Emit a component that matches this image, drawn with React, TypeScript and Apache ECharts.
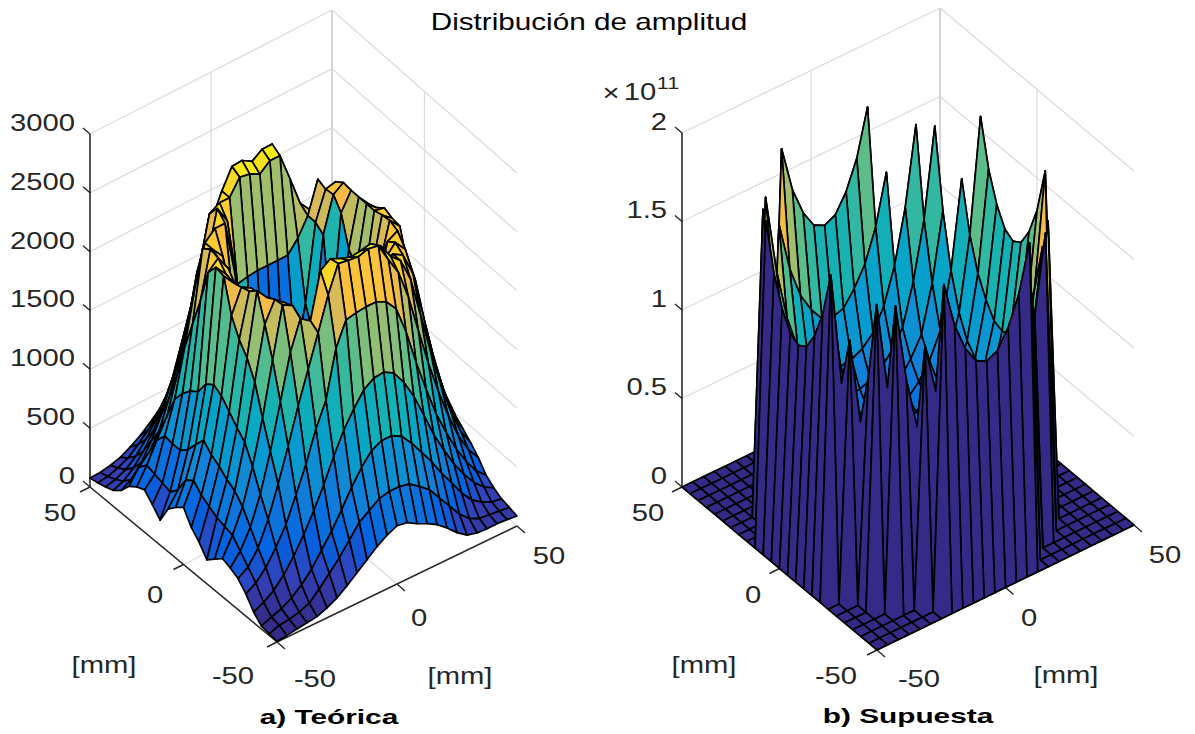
import React, { useEffect, useRef } from "react";
import * as echarts from "echarts";

const suptitle = "Distribución de amplitud";
const subtitleA = "a) Teórica";
const subtitleB = "b) Supuesta";
const unitLabel = "[mm]";
const floorTicks = [-50, 0, 50];
const zTicksA = [0, 500, 1000, 1500, 2000, 2500, 3000];
const zLabelsA = ["0", "500", "1000", "1500", "2000", "2500", "3000"];
const zTicksB = [0, 0.5, 1, 1.5, 2];
const zLabelsB = ["0", "0.5", "1", "1.5", "2"];
const parula = ["#352A87","#3243BA","#0363E1","#0D75DC","#1485D4","#0998D1","#06A7C6","#15B1B4","#38B99E","#65BE86","#92BF73","#B7BD64","#D9BA56","#F8BB44","#FCCE2E","#F5E41D","#F9FB0E"];

// Rows run from the front (Y=-50) to the back (Y=50); columns from X=-50 to X=50.
const surfaceA: number[][] = [
[5,15,28,40,52,85,128,190,260,330,400,455,495,480,430,390,340,270,190,128,105,100,102,95,85],
[15,45,55,75,110,190,280,370,480,590,650,710,730,730,710,650,580,470,360,250,170,130,120,110,100],
[25,60,90,140,210,300,420,540,680,830,960,1060,1105,1105,1060,960,840,720,580,460,330,230,170,130,115],
[90,130,190,280,400,540,700,880,1080,1260,1400,1520,1580,1590,1540,1420,1260,1060,850,680,520,390,280,200,150],
[190,240,330,460,610,820,1040,1300,1500,1900,2100,2120,2130,2130,2090,1990,1750,1450,1180,930,730,550,400,280,200],
[265,320,440,640,900,1180,1480,1750,2020,2300,2525,2510,2500,2525,2510,2350,2200,1950,1620,1300,1020,770,560,400,290],
[300,400,560,800,1120,1500,1880,2125,2065,2450,2510,2470,2440,2450,2470,2410,2280,2200,2000,1650,1300,980,710,500,360],
[325,480,680,980,1350,1800,2230,2180,2000,1700,1500,1300,1200,1200,1400,1750,2100,2200,2150,1950,1560,1180,850,600,420],
[265,500,760,1130,1600,2050,2220,2150,1900,1300,1000,800,600,600,800,1100,1750,2100,2200,2100,1800,1380,990,700,480],
[204,520,800,1200,1750,2280,2180,2000,1300,800,560,450,420,420,450,560,950,1750,2150,2200,1880,1480,1060,760,520],
[300,560,860,1280,1850,2220,2150,1500,900,520,430,390,380,380,390,430,560,1100,1900,2230,2140,1580,1130,800,550],
[370,600,900,1360,2000,2200,2150,1300,750,480,400,380,370,370,380,400,480,850,1800,2220,2150,1620,1160,820,570],
[485,670,970,1400,2280,2180,2050,1100,650,460,390,370,360,360,370,390,460,700,1650,2200,2180,1650,1180,840,580],
[430,620,880,1350,2300,2200,2050,1100,650,460,390,370,360,360,370,390,460,720,1700,2200,2125,1620,1150,820,570],
[360,480,780,1230,2200,2280,2150,1300,800,480,400,380,370,370,380,400,500,880,1800,2200,2100,1560,1100,780,540],
[212,410,720,1180,1900,2300,2150,1800,1050,530,430,400,390,390,400,440,560,1150,2050,2200,1950,1420,1000,720,500],
[290,430,720,1105,1650,2250,2200,2100,1700,980,520,450,420,420,460,560,1050,1850,2150,2210,1800,1300,900,640,450],
[360,450,730,1000,1400,1850,2200,2280,2280,1800,1150,500,400,380,420,850,1250,1900,2140,2160,1600,1150,800,560,400],
[330,470,640,800,1100,1450,1900,1970,2350,2200,1620,1640,1650,1650,1650,1650,1750,1900,2167,1850,1400,1000,700,490,350],
[280,400,480,620,860,1150,1480,1850,2250,2300,2300,2430,2414,2370,2440,2440,2200,1950,1850,1700,1250,880,620,430,310],
[190,240,340,480,660,900,1180,1480,1850,2100,2300,2465,2473,2422,2482,2482,2200,1800,1500,1200,950,700,500,360,260],
[136,170,240,340,470,640,860,1100,1400,1700,1950,2100,2120,2120,2100,1900,1650,1380,1120,900,700,520,380,280,210],
[110,130,170,240,340,460,620,800,1020,1250,1450,1560,1590,1590,1550,1400,1200,1000,800,640,500,380,290,220,170],
[90,100,130,170,240,320,430,560,700,860,1000,1080,1110,1110,1070,970,830,690,560,440,350,270,210,170,130],
[76,80,95,120,165,220,290,370,460,560,650,710,730,730,700,630,540,450,370,300,240,190,155,130,110],
];

// Surface b, in units of 1e11: one list per distance of the row from the aperture's centre row.
const bRow11 = [0,0,0,0,0,0,0,0,0,0,0,0,0,0,0,0,0,0,0,0,0,0,0,0,0];
const bRow10 = [0,0,0,0,0,0,0,1.82,1.56,1.40,1.30,1.27,1.30,1.40,1.56,1.82,0,0,0,0,0,0,0,0,0];
const bRow9 = [0,0,0,0,0,0,1.46,1.18,1.00,0.89,0.81,0.79,0.81,0.89,1.00,1.18,1.46,0,0,0,0,0,0,0,0];
const bRow8 = [0,0,0,0,1.71,1.27,0.97,0.77,0.65,0.59,0.56,0.55,0.56,0.59,0.65,0.77,0.97,1.27,1.71,0,0,0,0,0,0];
const bRow7 = [0,0,0,1.71,1.21,0.89,0.66,0.56,0.49,0.45,0.43,0.42,0.43,0.45,0.49,0.56,0.66,0.89,1.21,1.71,0,0,0,0,0];
const bRow6 = [0,0,0,1.27,0.89,0.63,0.52,0.44,0.40,0.37,0.36,0.35,0.36,0.37,0.40,0.44,0.52,0.63,0.89,1.27,0,0,0,0,0];
const bRow5 = [0,0,1.46,0.97,0.66,0.52,0.43,0.37,0.34,0.32,0.31,0.30,0.31,0.32,0.34,0.37,0.43,0.52,0.66,0.97,1.46,0,0,0,0];
const bRow4 = [0,1.82,1.18,0.77,0.56,0.44,0.37,0.33,0.30,0.29,0.28,0.27,0.28,0.29,0.30,0.33,0.37,0.44,0.56,0.77,1.18,1.82,0,0,0];
const bRow3 = [0,1.56,1.00,0.65,0.49,0.40,0.34,0.30,0.28,0.27,0.26,0.26,0.26,0.27,0.28,0.30,0.34,0.40,0.49,0.65,1.00,1.56,0,0,0];
const bRow2 = [0,1.40,0.89,0.59,0.45,0.37,0.32,0.29,0.27,0.26,0.25,0.25,0.25,0.26,0.27,0.29,0.32,0.37,0.45,0.59,0.89,1.40,0,0,0];
const bRow1 = [0,1.30,0.81,0.56,0.43,0.36,0.31,0.28,0.26,0.25,0.25,0.25,0.25,0.25,0.26,0.28,0.31,0.36,0.43,0.56,0.81,1.30,0,0,0];
const bRow0 = [0,1.27,0.79,0.55,0.42,0.35,0.30,0.27,0.26,0.25,0.25,0.25,0.25,0.25,0.26,0.27,0.30,0.35,0.42,0.55,0.79,1.27,0,0,0];
const surfaceB: number[][] = [bRow11,bRow10,bRow9,bRow8,bRow7,bRow6,bRow5,bRow4,bRow3,bRow2,bRow1,bRow0,bRow1,bRow2,bRow3,bRow4,bRow5,bRow6,bRow7,bRow8,bRow9,bRow10,bRow11,bRow11,bRow11];

type Pt = [number, number];
type Panel = { front: Pt; right: Pt; left: Pt; back: Pt; zPx: number; zMax: number; cMax: number };
const panelA: Panel = { front: [277, 642], right: [517, 526], left: [90, 487], back: [332, 363], zPx: 353, zMax: 3000, cMax: 2540 };
const panelB: Panel = { front: [877, 650], right: [1134, 525], left: [682, 487], back: [940, 362], zPx: 354, zMax: 2, cMax: 1.82 };

function project(p: Panel, X: number, Y: number, Z: number): Pt {
  const a = (X + 50) / 100, b = (Y + 50) / 100;
  const mix = (i: 0 | 1) =>
    p.front[i] * (1 - a) * (1 - b) + p.right[i] * a * (1 - b) + p.left[i] * (1 - a) * b + p.back[i] * a * b;
  return [mix(0), mix(1) - (Z / p.zMax) * p.zPx];
}

function surfaceSeries(p: Panel, table: number[][]) {
  const n = table.length - 1;
  const mm = (i: number) => -50 + (100 * i) / n;
  const cells: number[][] = [];
  for (let v = n - 1; v >= 0; v--) for (let u = n - 1; u >= 0; u--) cells.push([u, v]);
  return {
    type: "custom",
    coordinateSystem: "cartesian2d",
    clip: false,
    silent: true,
    data: cells,
    encode: { x: 0, y: 1 },
    renderItem: (_: any, api: any) => {
      const u = api.value(0), v = api.value(1);
      const corner = (i: number, j: number) => api.coord(project(p, mm(i), mm(j), table[j][i]));
      return {
        type: "polygon",
        shape: { points: [corner(u, v), corner(u + 1, v), corner(u + 1, v + 1), corner(u, v + 1)] },
        style: {
          fill: echarts.color.lerp(Math.min(1, table[v][u] / p.cMax), parula),
          stroke: "#000",
          lineWidth: 1.7,
          lineJoin: "round",
        },
      };
    },
  };
}

function frameSeries(p: Panel, zTicks: number[]) {
  const GRID = "#dcdcdc", AXIS = "#262626";
  const segs: { a: Pt; b: Pt; c: string; w: number }[] = [];
  const top = p.zMax;
  const add = (a: Pt, b: Pt, c: string, w: number) => segs.push({ a, b, c, w });
  zTicks.forEach((z) => {
    add(project(p, -50, 50, z), project(p, 50, 50, z), GRID, 1.3);
    add(project(p, 50, 50, z), project(p, 50, -50, z), GRID, 1.3);
  });
  floorTicks.forEach((t) => {
    if (t !== -50) {
      add(project(p, t, 50, 0), project(p, t, 50, top), t === 50 ? "#c6c6c6" : GRID, t === 50 ? 2 : 1.3);
      add(project(p, 50, t, 0), project(p, 50, t, top), GRID, 1.3);
    }
    if (t === 0) {
      add(project(p, t, -50, 0), project(p, t, 50, 0), GRID, 1.3);
      add(project(p, -50, t, 0), project(p, 50, t, 0), GRID, 1.3);
    }
  });
  add(project(p, -50, 50, 0), project(p, -50, 50, top), AXIS, 1.6);
  add(project(p, -50, -50, 0), project(p, -50, 50, 0), AXIS, 1.5);
  add(project(p, -50, -50, 0), project(p, 50, -50, 0), AXIS, 1.5);
  zTicks.forEach((z) => {
    const q = project(p, -50, 50, z);
    add(q, [q[0] - 7, q[1] - 6], AXIS, 1.4);
  });
  floorTicks.forEach((t) => {
    const q = project(p, -50, t, 0);
    add(q, [q[0] - 10, q[1] + 5], AXIS, 1.4);
    const r = project(p, t, -50, 0);
    add(r, [r[0] + 8, r[1] + 7], AXIS, 1.4);
  });
  return {
    type: "custom",
    coordinateSystem: "cartesian2d",
    clip: false,
    silent: true,
    data: segs.map((_, i) => [i, 0]),
    encode: { x: 0, y: 1 },
    renderItem: (_: any, api: any) => {
      const s = segs[api.value(0)];
      const a = api.coord(s.a), b = api.coord(s.b);
      return {
        type: "line",
        shape: { x1: a[0], y1: a[1], x2: b[0], y2: b[1] },
        style: { stroke: s.c, lineWidth: s.w, fill: null },
      };
    },
  };
}

function label(text: string, x: number, y: number, size = 23, sx = 1.27, align = "center", weight = "normal", fill = "#262626") {
  return {
    type: "text",
    x,
    y,
    scaleX: sx,
    silent: true,
    style: {
      text,
      fill,
      font: `${weight} ${size}px "Liberation Sans", Arial, sans-serif`,
      textAlign: align,
      textVerticalAlign: "middle",
    },
  };
}

function panelLabels(zLabels: string[], zTicks: number[], p: Panel, zRight: number, yPos: Pt[], xPos: Pt[]) {
  const out: any[] = [];
  zLabels.forEach((t, i) => out.push(label(t, zRight, project(p, -50, 50, zTicks[i])[1] - 11, 23, 1.27, "right")));
  floorTicks.forEach((t, i) => {
    out.push(label(String(t), yPos[i][0], yPos[i][1]));
    out.push(label(String(t), xPos[i][0], xPos[i][1]));
  });
  return out;
}

export default function App() {
  const ref = useRef<HTMLDivElement>(null);
  useEffect(() => {
    document.body.style.margin = "0";
    const chart = echarts.init(ref.current!, undefined, { renderer: "svg" });
    chart.setOption({
      animation: false,
      backgroundColor: "#fff",
      grid: { left: 0, right: 0, top: 0, bottom: 0 },
      xAxis: { type: "value", min: 0, max: 1195, show: false },
      yAxis: { type: "value", min: 0, max: 734, inverse: true, show: false },
      series: [
        frameSeries(panelA, zTicksA),
        frameSeries(panelB, zTicksB),
        surfaceSeries(panelA, surfaceA),
        surfaceSeries(panelB, surfaceB),
      ],
      graphic: [
        label(suptitle, 589, 22, 23, 1.29, "center", "normal", "#000"),
        label(subtitleA, 329, 717, 21, 1.42, "center", "bold", "#000"),
        label(subtitleB, 908, 716, 21, 1.42, "center", "bold", "#000"),
        label(unitLabel, 104, 665),
        label(unitLabel, 460, 676),
        label(unitLabel, 704, 665),
        label(unitLabel, 1066, 675),
        ...panelLabels(zLabelsA, zTicksA, panelA, 75, [[233, 676], [155, 595], [60, 513]], [[315, 679], [419, 618], [549, 556]]),
        ...panelLabels(zLabelsB, zTicksB, panelB, 667, [[836, 676], [753, 595], [648, 513]], [[919, 679], [1029, 618], [1165, 555]]),
        label("×", 611, 93, 23, 1.27),
        label("10", 640, 92, 23, 1.27),
        label("11", 668, 83, 17, 1.27),
      ],
    });
    return () => chart.dispose();
  }, []);
  return <div ref={ref} style={{ width: 1195, height: 734 }} />;
}
